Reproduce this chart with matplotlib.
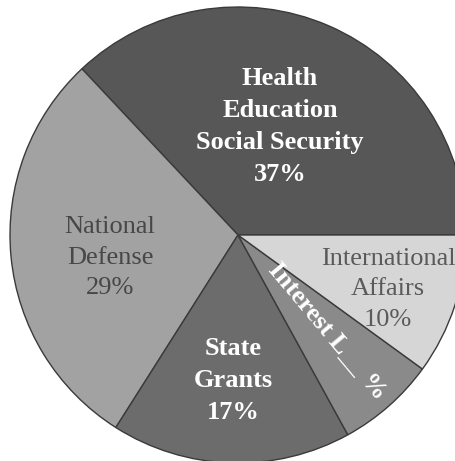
import matplotlib.pyplot as plt

# Federal budget shares, counterclockwise from 3 o'clock
categories = ["Health\nEducation\nSocial Security", "National\nDefense", "State\nGrants",
              "Interest", "International\nAffairs"]
shares = [37, 29, 17, 7, 10]
pct_labels = ["37%", "29%", "17%", "L__ %", "10%"]

colors = ["#575757", "#a2a2a2", "#6c6c6c", "#8a8a8a", "#d6d6d6"]

fig = plt.figure(figsize=(4.56, 4.61), dpi=100)
ax = fig.add_axes([0, 0, 1, 1])

wedges, _ = ax.pie(
    shares,
    colors=colors,
    startangle=0,
    counterclock=True,
    radius=1.0,
    wedgeprops={"edgecolor": "#3a3a3a", "linewidth": 1.0},
)

ax.set_xlim(-238 / 228, (456 - 238) / 228)
ax.set_ylim(-(461 - 235) / 228, 235 / 228)
ax.set_aspect("equal")
ax.axis("off")

serif = ["Liberation Serif", "DejaVu Serif"]
fs = 19
ls = 1.5

# label positions and styles (data coords)
ax.text(0.184, 0.478, categories[0] + "\n" + pct_labels[0], ha="center", va="center",
        color="white", fontsize=fs, fontweight="bold", family=serif, linespacing=ls)
ax.text(-0.561, -0.10, categories[1] + "\n" + pct_labels[1], ha="center", va="center",
        color="#474747", fontsize=fs, family=serif, linespacing=ls)
ax.text(-0.022, -0.636, categories[2] + "\n" + pct_labels[2], ha="center", va="center",
        color="white", fontsize=fs, fontweight="bold", family=serif, linespacing=ls)
ax.text(0.39, -0.42, categories[3] + " " + pct_labels[3], ha="center", va="center",
        color="white", fontsize=fs, fontweight="bold", family=serif, rotation=-50,
        rotation_mode="anchor")
ax.text(0.658, -0.237, categories[4] + "\n" + pct_labels[4], ha="center", va="center",
        color="#5a5a5a", fontsize=fs, family=serif, linespacing=ls)

plt.savefig("out.png", dpi=100)
plt.close()
